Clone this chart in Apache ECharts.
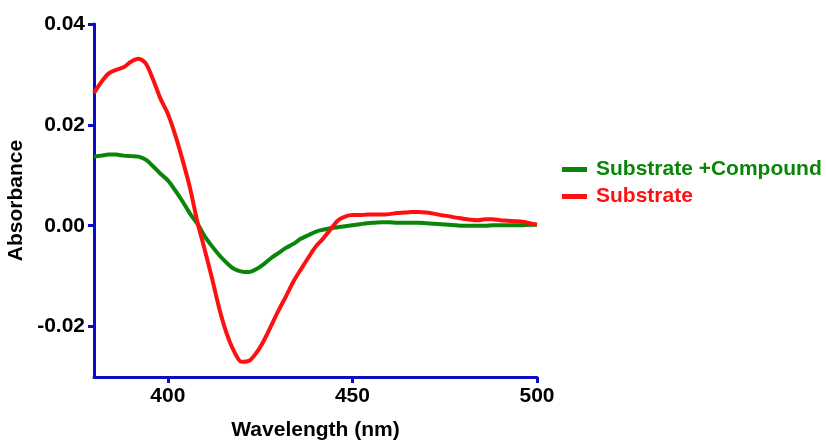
<!DOCTYPE html>
<html>
<head>
<meta charset="utf-8">
<script src="https://cdn.jsdelivr.net/npm/echarts@6/dist/echarts.min.js"></script>
<style>
  html, body { margin: 0; padding: 0; background: #ffffff; }
  #chart { width: 826px; height: 441px; }
</style>
</head>
<body>
<div id="chart"></div>
<script>
// Difference absorbance spectra, 380-500 nm in 2 nm steps
const wavelengths = [
  380, 382, 384, 386, 388, 390, 392, 394, 396, 398,
  400, 402, 404, 406, 408, 410, 412, 414, 416, 418,
  420, 422, 424, 426, 428, 430, 432, 434, 436, 438,
  440, 442, 444, 446, 448, 450, 452, 454, 456, 458,
  460, 462, 464, 466, 468, 470, 472, 474, 476, 478,
  480, 482, 484, 486, 488, 490, 492, 494, 496, 498,
  500
];

const substrateCompound = [
  0.0137, 0.0139, 0.0141, 0.0141, 0.0139, 0.0138, 0.0137, 0.0131, 0.0118, 0.0103,
  0.0090, 0.0070, 0.0048, 0.0024, 0.0004, -0.0021, -0.0041, -0.0059, -0.0074, -0.0086,
  -0.0091, -0.0092, -0.0086, -0.0076, -0.0064, -0.0054, -0.0044, -0.0036, -0.0026, -0.0019,
  -0.0012, -0.0008, -0.0005, -0.0003, -0.0001, 0.0001, 0.0003, 0.0005, 0.0006, 0.0007,
  0.0007, 0.0006, 0.0006, 0.0006, 0.0006, 0.0005, 0.0004, 0.0003, 0.0002, 0.0001,
  0.0000, 0.0000, 0.0000, 0.0000, 0.0001, 0.0001, 0.0001, 0.0001, 0.0001, 0.0002,
  0.0002
];

const substrate = [
  0.0263, 0.0285, 0.0302, 0.0309, 0.0314, 0.0325, 0.0331, 0.0322, 0.0290, 0.0252,
  0.0222, 0.0180, 0.0130, 0.0075, 0.0008, -0.0048, -0.0105, -0.0166, -0.0215, -0.0250,
  -0.0270, -0.0268, -0.0252, -0.0228, -0.0198, -0.0168, -0.0140, -0.0111, -0.0087, -0.0064,
  -0.0042, -0.0026, -0.0008, 0.0010, 0.0018, 0.0021, 0.0021, 0.0022, 0.0022, 0.0022,
  0.0023, 0.0025, 0.0026, 0.0027, 0.0027, 0.0026, 0.0024, 0.0021, 0.0019, 0.0016,
  0.0014, 0.0012, 0.0011, 0.0013, 0.0013, 0.0011, 0.0010, 0.0009, 0.0008, 0.0005,
  0.0002
];

const xTicks = [400, 450, 500];
const yTicks = [-0.02, 0.00, 0.02, 0.04];

const seriesNames = ['Substrate +Compound', 'Substrate'];
const seriesColors = ['#0a850a', '#ff1010'];

const pair = (xs, ys) => xs.map((x, i) => [x, ys[i]]);

const axisBlue = '#0c0cc8';
const fontFamily = '"Liberation Sans", Arial, Helvetica, sans-serif';

const chart = echarts.init(document.getElementById('chart'), null, { renderer: 'canvas' });

chart.setOption({
  animation: false,
  backgroundColor: '#ffffff',
  grid: { left: 94, right: 289, top: 24, bottom: 64, outerBoundsMode: 'none' },
  legend: {
    orient: 'vertical',
    left: 557,
    top: 154,
    itemWidth: 25,
    itemHeight: 5,
    itemGap: 6,
    icon: 'rect',
    data: seriesNames.map((name, i) => ({
      name: name,
      textStyle: { color: seriesColors[i] }
    })),
    textStyle: {
      fontFamily: fontFamily,
      fontWeight: 'bold',
      fontSize: 21,
      padding: [0, 0, 0, 4]
    }
  },
  xAxis: {
    type: 'value',
    min: 380,
    max: 500,
    name: 'Wavelength (nm)',
    nameLocation: 'middle',
    nameGap: 43,
    nameTextStyle: { fontFamily: fontFamily, fontWeight: 'bold', fontSize: 21, color: '#000' },
    axisLine: { show: true, onZero: false, lineStyle: { color: axisBlue, width: 3 } },
    axisTick: { show: true, length: 6, customValues: xTicks, lineStyle: { color: axisBlue, width: 3 } },
    axisLabel: {
      customValues: xTicks,
      margin: 9,
      fontFamily: fontFamily, fontWeight: 'bold', fontSize: 21, color: '#000'
    },
    splitLine: { show: false }
  },
  yAxis: {
    type: 'value',
    min: -0.03,
    max: 0.04,
    name: 'Absorbance',
    nameLocation: 'middle',
    nameGap: 57,
    nameRotate: 90,
    nameTextStyle: { fontFamily: fontFamily, fontWeight: 'bold', fontSize: 21, color: '#000' },
    axisLine: { show: true, lineStyle: { color: axisBlue, width: 3 } },
    axisTick: { show: true, length: 6, customValues: yTicks, lineStyle: { color: axisBlue, width: 3 } },
    axisLabel: {
      customValues: yTicks,
      margin: 9,
      formatter: v => v.toFixed(2),
      fontFamily: fontFamily, fontWeight: 'bold', fontSize: 21, color: '#000'
    },
    splitLine: { show: false }
  },
  series: [
    {
      name: seriesNames[0],
      type: 'line',
      data: pair(wavelengths, substrateCompound),
      symbol: 'none',
      smooth: 0.3,
      color: seriesColors[0],
      lineStyle: { color: seriesColors[0], width: 4 },
      z: 3
    },
    {
      name: seriesNames[1],
      type: 'line',
      data: pair(wavelengths, substrate),
      symbol: 'none',
      smooth: 0.3,
      color: seriesColors[1],
      lineStyle: { color: seriesColors[1], width: 4 },
      z: 4
    }
  ]
});
</script>
</body>
</html>
